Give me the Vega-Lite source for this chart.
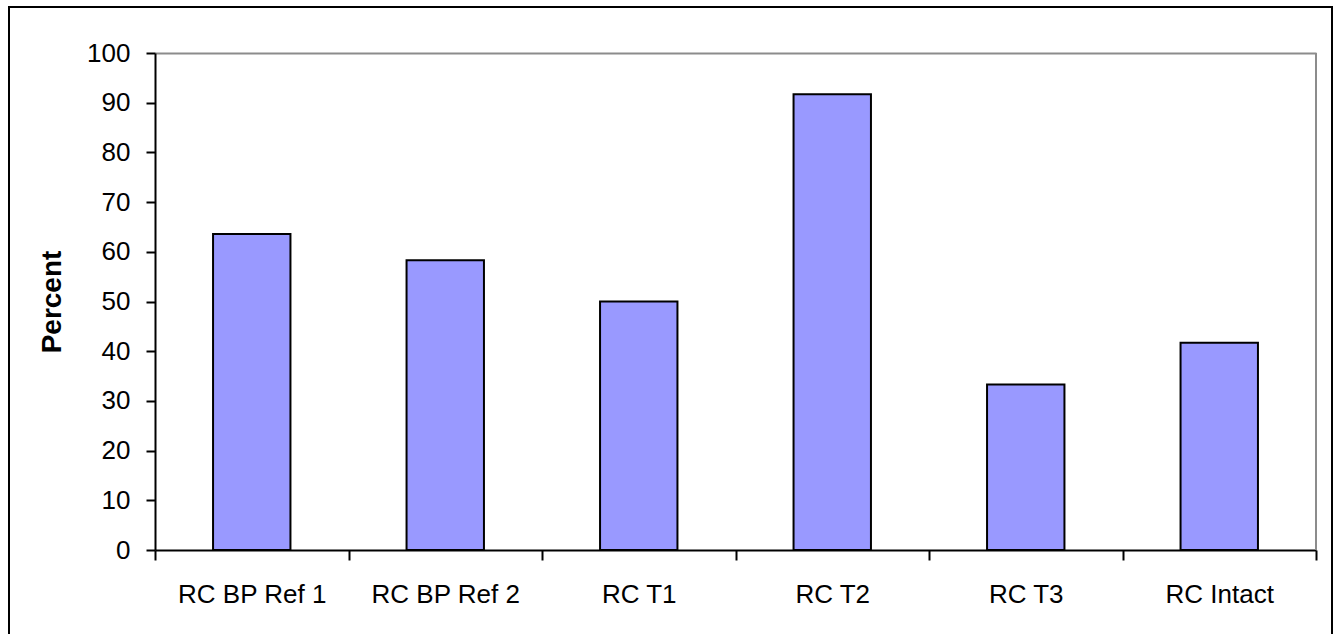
{
  "$schema": "https://vega.github.io/schema/vega-lite/v6.json",
  "description": "Share of responses in percent for each RC group, as an Excel-style column chart with a framed chart area.",
  "width": 1323,
  "height": 640,
  "autosize": {"type": "none"},
  "padding": {"left": 9, "top": 7, "right": 3, "bottom": -13},
  "config": {
    "font": "Liberation Sans",
    "view": {"stroke": "#000000", "strokeWidth": 2, "fill": "#ffffff"},
    "axis": {
      "domainColor": "#000000",
      "domainWidth": 2,
      "tickColor": "#000000",
      "tickWidth": 2,
      "labelColor": "#000000",
      "labelFont": "Liberation Sans",
      "labelFontSize": 26,
      "titleFont": "Liberation Sans",
      "titleColor": "#000000",
      "gridColor": "#8c8c8c",
      "gridWidth": 2
    }
  },
  "data": {
    "values": [
      {"group": "RC BP Ref 1", "percent": 63.6},
      {"group": "RC BP Ref 2", "percent": 58.3},
      {"group": "RC T1", "percent": 50.0},
      {"group": "RC T2", "percent": 91.7},
      {"group": "RC T3", "percent": 33.3},
      {"group": "RC Intact", "percent": 41.7}
    ]
  },
  "encoding": {
    "x": {
      "field": "group",
      "type": "nominal",
      "sort": null,
      "scale": {"range": [146, 1307], "paddingInner": 0, "paddingOuter": 0},
      "axis": {
        "title": null,
        "orient": "bottom",
        "offset": -97,
        "labelAngle": 0,
        "labelPadding": 21,
        "tickSize": 10,
        "tickBand": "extent",
        "grid": false
      }
    },
    "y": {
      "field": "percent",
      "type": "quantitative",
      "scale": {"domain": [0, 100], "range": [543, 46], "nice": false},
      "axis": {
        "title": "Percent",
        "titleFontSize": 28,
        "titleFontWeight": "bold",
        "titlePadding": 20,
        "orient": "left",
        "offset": -146,
        "values": [0, 10, 20, 30, 40, 50, 60, 70, 80, 90, 100],
        "labelPadding": 16,
        "tickSize": 9,
        "grid": true,
        "gridOpacity": {"condition": {"test": "datum.value === 100", "value": 1}, "value": 0}
      }
    }
  },
  "layer": [
    {
      "mark": {
        "type": "bar",
        "fill": "#9999ff",
        "stroke": "#000000",
        "strokeWidth": 2,
        "width": {"band": 0.4}
      }
    },
    {
      "transform": [{"filter": "datum.group === 'RC Intact'"}],
      "mark": {"type": "rule", "color": "#8c8c8c", "strokeWidth": 2},
      "encoding": {
        "x": {"field": "group", "type": "nominal", "sort": null, "bandPosition": 1},
        "y": {"datum": 0},
        "y2": {"datum": 100}
      }
    }
  ]
}
